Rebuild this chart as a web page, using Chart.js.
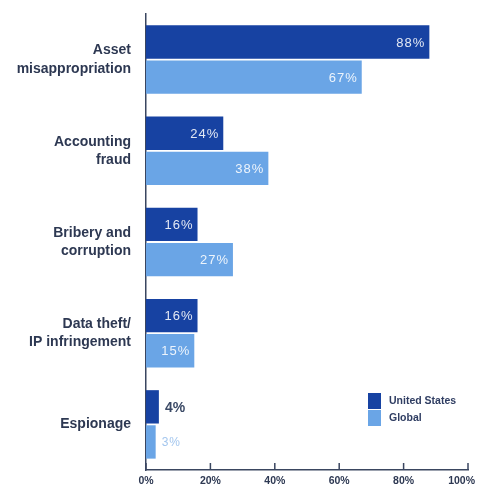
<!DOCTYPE html>
<html>
<head>
<meta charset="utf-8">
<script src="https://cdn.jsdelivr.net/npm/chart.js@4/dist/chart.umd.min.js"></script>
<style>
  html, body { margin: 0; padding: 0; background: #fff; overflow: hidden; }
  #wrap { width: 478px; height: 488px; }
</style>
</head>
<body>
<div id="wrap"><canvas id="grafica"></canvas></div>
<script>
// Datos del grafico
const categorias = [
    ["Asset", "misappropriation"],
    ["Accounting", "fraud"],
    ["Bribery and", "corruption"],
    ["Data theft/", "IP infringement"],
    "Espionage"
];
const valoresUS = [88, 24, 16, 16, 4];
const valoresGlobal = [67, 38, 27, 15, 3];
const ticksX = [0, 20, 40, 60, 80, 100];

const azulOscuro = '#1742a2';
const azulClaro = '#6aa5e6';
const textoOscuro = '#2d3852';
const fuente = '"Liberation Sans", Arial, sans-serif';

// Etiquetas de valor: dentro de la barra si cabe, fuera si es pequena
const etiquetasPlugin = {
    id: 'etiquetas',
    afterDatasetsDraw(chart) {
        const ctx = chart.ctx;
        ctx.save();
        ctx.textBaseline = 'middle';
        chart.data.datasets.forEach((ds, i) => {
            chart.getDatasetMeta(i).data.forEach((bar, j) => {
                const v = ds.data[j];
                const txt = v + '%';
                ctx.letterSpacing = '1px';
                if (v >= 10) {
                    ctx.font = '13px ' + fuente;
                    ctx.fillStyle = 'rgba(255,255,255,0.88)';
                    ctx.textAlign = 'right';
                    ctx.fillText(txt, bar.x - 4, bar.y + 1);
                } else {
                    ctx.textAlign = 'left';
                    if (i === 0) {
                        ctx.letterSpacing = '0px';
                        ctx.font = 'bold 14px ' + fuente;
                        ctx.fillStyle = '#3b4a66';
                    } else {
                        ctx.font = '12px ' + fuente;
                        ctx.fillStyle = '#a3c6ee';
                    }
                    ctx.fillText(txt, bar.x + 6, bar.y + 1);
                }
            });
        });
        ctx.restore();
    }
};

// Marcas y etiquetas del eje X, y leyenda dentro del area
const extrasPlugin = {
    id: 'extras',
    afterDraw(chart) {
        const ctx = chart.ctx;
        const x = chart.scales.x;
        const area = chart.chartArea;
        ctx.save();
        ctx.strokeStyle = '#3a4660';
        ctx.lineWidth = 1.5;
        ctx.font = 'bold 10.5px ' + fuente;
        ctx.fillStyle = textoOscuro;
        ctx.textBaseline = 'middle';
        ctx.textAlign = 'center';
        ticksX.forEach(t => {
            const px = x.getPixelForValue(t);
            ctx.beginPath();
            ctx.moveTo(px, area.bottom);
            ctx.lineTo(px, area.bottom - 7);
            ctx.stroke();
            const txt = t + '%';
            const w = ctx.measureText(txt).width;
            const cx = Math.min(px, chart.width - 3 - w / 2);
            ctx.fillText(txt, cx, area.bottom + 11);
        });
        // leyenda
        const lx = area.right - 100;
        let ly = area.bottom - 77;
        ctx.textAlign = 'left';
        chart.data.datasets.forEach(ds => {
            ctx.fillStyle = ds.backgroundColor;
            ctx.fillRect(lx, ly, 13, 16);
            ctx.fillStyle = '#2f3d62';
            ctx.fillText(ds.label, lx + 21, ly + 8);
            ly += 17;
        });
        ctx.restore();
    }
};

function sinRelleno(scale) {
    scale.paddingLeft = 0;
    scale.paddingRight = 0;
    scale.paddingTop = 0;
    scale.paddingBottom = 0;
}

const ctx = document.getElementById('grafica').getContext('2d');
const grafica = new Chart(ctx, {
    type: 'bar',
    data: {
        labels: categorias,
        datasets: [
            {
                label: 'United States',
                data: valoresUS,
                backgroundColor: azulOscuro,
                borderWidth: 0,
                barPercentage: 0.95,
                categoryPercentage: 0.77
            },
            {
                label: 'Global',
                data: valoresGlobal,
                backgroundColor: azulClaro,
                borderWidth: 0,
                barPercentage: 0.95,
                categoryPercentage: 0.77
            }
        ]
    },
    options: {
        indexAxis: 'y',
        responsive: true,
        maintainAspectRatio: false,
        animation: false,
        layout: { padding: { top: 14, right: 10, left: 0, bottom: 0 } },
        scales: {
            x: {
                min: 0,
                max: 100,
                afterBuildTicks(scale) {
                    scale.ticks = ticksX.map(v => ({ value: v }));
                },
                afterFit(scale) { scale.height = 18; sinRelleno(scale); },
                grid: { display: false, drawTicks: false },
                border: { display: true, color: '#3a4660', width: 1.5 },
                ticks: { display: false }
            },
            y: {
                afterFit(scale) { scale.width = 146; sinRelleno(scale); },
                grid: { display: false, drawTicks: false },
                border: { display: true, color: '#3a4660', width: 1.5 },
                ticks: {
                    padding: 15,
                    color: textoOscuro,
                    font: { family: fuente, size: 14, weight: 'bold', lineHeight: 1.3 }
                }
            }
        },
        plugins: {
            legend: { display: false },
            tooltip: { enabled: false }
        }
    },
    plugins: [etiquetasPlugin, extrasPlugin]
});
</script>
</body>
</html>
